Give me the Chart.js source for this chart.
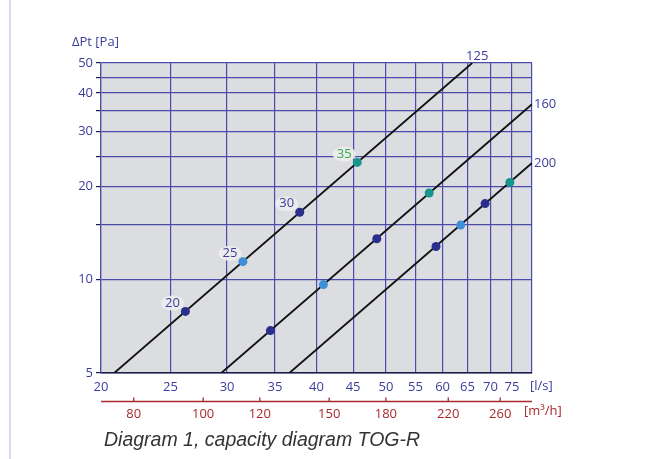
<!DOCTYPE html>
<html>
<head>
<meta charset="utf-8">
<script src="https://cdn.jsdelivr.net/npm/chart.js@4.4.1/dist/chart.umd.min.js"></script>
<style>
    body { margin: 0; background: #ffffff; }
    #wrap { position: relative; width: 662px; height: 459px; overflow: hidden; }
    #left_rule { position: absolute; left: 9px; top: 0; width: 2px; height: 459px; background: #d6dcf0; }
    #caption {
        position: absolute; left: 104px; top: 428px;
        font-family: "Liberation Sans", Arial, sans-serif; font-style: italic;
        font-size: 19.5px; line-height: 22px; color: #333333; white-space: nowrap;
    }
</style>
</head>
<body>
<div id="wrap">
    <div id="left_rule"></div>
    <canvas id="chart_capacity" width="662" height="459"></canvas>
    <div id="caption">Diagram 1, capacity diagram TOG-R</div>
</div>
<script>
// axis ticks
const flow_ticks = [20, 25, 30, 35, 40, 45, 50, 55, 60, 65, 70, 75, 80];
const flow_labels = [20, 25, 30, 35, 40, 45, 50, 55, 60, 65, 70, 75];
const pressure_ticks = [5, 10, 15, 20, 25, 30, 35, 40, 45, 50];
const pressure_labels = [5, 10, 20, 30, 40, 50];
const m3h_ticks = [80, 100, 120, 150, 180, 220, 260];
const m3h_per_ls = 3.6;

// duct curves, end points [l/s, Pa]
const duct_names = ['125', '160', '200'];
const curve_125 = [[20.87, 5], [66, 50]];
const curve_160 = [[29.45, 5], [80, 36.8]];
const curve_200 = [[36.66, 5], [80, 23.8]];

// marked points on each curve
const flow_125 = [26.24, 31.57, 37.9, 45.6];
const pa_125 = [7.9, 11.43, 16.5, 23.9];
const flow_160 = [34.49, 40.9, 48.56, 57.47];
const pa_160 = [6.85, 9.64, 13.55, 19.04];
const flow_200 = [58.75, 63.6, 68.8, 74.5];
const pa_200 = [12.8, 15.0, 17.6, 20.6];
const point_labels = ['20', '25', '30', '35'];

const navy = '#2a2f8c';
const light_blue = '#3f8fd6';
const teal = '#17958a';
const dot_colors = [navy, light_blue, navy, teal];
const label_colors = ['#3d3d96', '#3d3d96', '#3d3d96', '#3aa84a'];

const grid_blue = '#4b4bab';
const text_blue = '#3d3d9c';
const text_red = '#a8282c';
const font_family = '"Open Sans", "Noto Sans", sans-serif';

function to_points(xs, ys) {
    return xs.map((x, i) => ({ x: x, y: ys[i] }));
}

function curve_points(pairs) {
    return pairs.map((p) => ({ x: p[0], y: p[1] }));
}

function dot_dataset(xs, ys) {
    return {
        type: 'scatter',
        data: to_points(xs, ys),
        pointRadius: 4.5,
        pointHoverRadius: 4.5,
        pointBackgroundColor: dot_colors,
        pointBorderWidth: 0,
        order: 1,
    };
}

function curve_dataset(pairs) {
    return {
        type: 'line',
        data: curve_points(pairs),
        borderColor: '#111111',
        borderWidth: 1.8,
        pointRadius: 0,
        fill: false,
        order: 2,
    };
}

const overlay_plugin = {
    id: 'overlay',
    afterDraw(chart) {
        const ctx = chart.ctx;
        const x = chart.scales.x;
        const y = chart.scales.y;
        const x2 = chart.scales.x2;
        ctx.save();

        // red m3/h axis line with ticks pointing up
        const base_y = x2.top + 6.5;
        ctx.strokeStyle = text_red;
        ctx.lineWidth = 1.3;
        ctx.beginPath();
        ctx.moveTo(x2.left, base_y);
        ctx.lineTo(x2.right, base_y);
        m3h_ticks.forEach((v) => {
            const px = x2.getPixelForValue(v);
            ctx.moveTo(px, base_y);
            ctx.lineTo(px, base_y - 4);
        });
        ctx.stroke();

        ctx.font = '13px ' + font_family;
        ctx.textBaseline = 'middle';

        // unit labels
        ctx.fillStyle = text_blue;
        ctx.textAlign = 'left';
        ctx.fillText('\u0394Pt [Pa]', 72, 42);
        ctx.fillText('[l/s]', x.right - 2, x.bottom - 9);
        ctx.fillStyle = text_red;
        ctx.fillText('[m\u00b3/h]', x.right - 8, x2.top + 16);

        // duct size labels
        ctx.fillStyle = text_blue;
        const top_125 = curve_125[curve_125.length - 1];
        ctx.textAlign = 'center';
        ctx.fillText(duct_names[0], x.getPixelForValue(top_125[0]) + 5, y.getPixelForValue(top_125[1]) - 7);
        ctx.textAlign = 'left';
        const end_160 = curve_160[curve_160.length - 1];
        const end_200 = curve_200[curve_200.length - 1];
        ctx.fillText(duct_names[1], x.getPixelForValue(end_160[0]) + 2, y.getPixelForValue(end_160[1]));
        ctx.fillText(duct_names[2], x.getPixelForValue(end_200[0]) + 2, y.getPixelForValue(end_200[1]));

        // point labels on the 125 curve
        ctx.textAlign = 'center';
        point_labels.forEach((txt, i) => {
            const px = x.getPixelForValue(flow_125[i]) - 13;
            const py = y.getPixelForValue(pa_125[i]) - 8.5;
            ctx.fillStyle = 'rgba(236, 236, 238, 0.95)';
            ctx.beginPath();
            ctx.ellipse(px, py, 11.5, 7.5, 0, 0, Math.PI * 2);
            ctx.fill();
            ctx.fillStyle = label_colors[i];
            ctx.fillText(txt, px, py);
        });

        ctx.restore();
    },
};

const ctx = document.getElementById('chart_capacity').getContext('2d');
new Chart(ctx, {
    type: 'scatter',
    data: {
        datasets: [
            dot_dataset(flow_125, pa_125),
            dot_dataset(flow_160, pa_160),
            dot_dataset(flow_200, pa_200),
            curve_dataset(curve_125),
            curve_dataset(curve_160),
            curve_dataset(curve_200),
        ],
    },
    options: {
        responsive: false,
        animation: false,
        events: [],
        layout: {
            padding: { left: 0, top: 63, right: 130, bottom: 34 },
        },
        plugins: {
            legend: { display: false },
            tooltip: { enabled: false },
        },
        scales: {
            x: {
                type: 'logarithmic',
                position: 'bottom',
                min: flow_ticks[0],
                max: flow_ticks[flow_ticks.length - 1],
                afterBuildTicks: (scale) => {
                    scale.ticks = flow_ticks.map((v) => ({ value: v }));
                },
                afterFit: (scale) => {
                    scale.height = 22;
                },
                grid: {
                    color: grid_blue,
                    lineWidth: 1.2,
                    drawTicks: false,
                },
                border: { color: '#1c1c4a', width: 1.5 },
                ticks: {
                    autoSkip: false,
                    maxRotation: 0,
                    padding: 6,
                    color: text_blue,
                    font: { family: font_family, size: 13 },
                    callback: (value) => (flow_labels.includes(value) ? String(value) : ''),
                },
            },
            x2: {
                type: 'logarithmic',
                position: 'bottom',
                min: flow_ticks[0] * m3h_per_ls,
                max: flow_ticks[flow_ticks.length - 1] * m3h_per_ls,
                afterBuildTicks: (scale) => {
                    scale.ticks = m3h_ticks.map((v) => ({ value: v }));
                },
                afterFit: (scale) => {
                    scale.height = 30;
                },
                grid: { display: false, drawTicks: false },
                border: { display: false },
                ticks: {
                    autoSkip: false,
                    maxRotation: 0,
                    padding: 11,
                    color: text_red,
                    font: { family: font_family, size: 13 },
                    callback: (value) => String(value),
                },
            },
            y: {
                type: 'logarithmic',
                min: pressure_ticks[0],
                max: pressure_ticks[pressure_ticks.length - 1],
                afterBuildTicks: (scale) => {
                    scale.ticks = pressure_ticks.map((v) => ({ value: v }));
                },
                afterFit: (scale) => {
                    scale.width = 101;
                },
                grid: {
                    color: grid_blue,
                    lineWidth: 1.2,
                    tickColor: '#1c1c4a',
                    tickLength: 5,
                },
                border: { color: grid_blue, width: 1.2 },
                ticks: {
                    autoSkip: false,
                    padding: 3,
                    color: text_blue,
                    font: { family: font_family, size: 13 },
                    callback: (value) => (pressure_labels.includes(value) ? String(value) : ''),
                },
            },
        },
    },
    plugins: [
        {
            id: 'plot_bg',
            beforeDraw(chart) {
                const a = chart.chartArea;
                chart.ctx.save();
                chart.ctx.fillStyle = '#dcdde0';
                chart.ctx.fillRect(a.left, a.top, a.right - a.left, a.bottom - a.top);
                chart.ctx.restore();
            },
        },
        overlay_plugin,
    ],
});
</script>
</body>
</html>
